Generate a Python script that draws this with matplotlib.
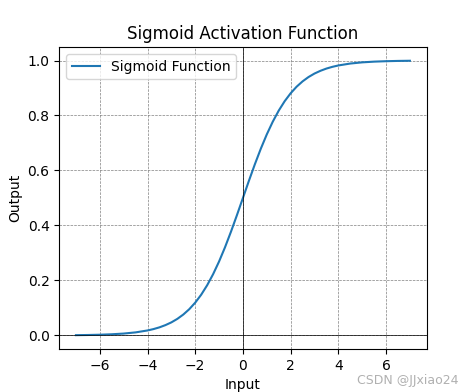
import matplotlib.pyplot as plt

# Values (denser where it bends)
x_vals = [-7.0, -6.5, -6.0, -5.5, -5.0, -4.5, -4.0, -3.75, -3.5, -3.25, -3.0, -2.75,
          -2.5, -2.25, -2.0, -1.75, -1.5, -1.25, -1.0, -0.75, -0.5, -0.25, 0.0,
          0.25, 0.5, 0.75, 1.0, 1.25, 1.5, 1.75, 2.0, 2.25, 2.5,
          2.75, 3.0, 3.25, 3.5, 3.75, 4.0, 4.5, 5.0, 5.5, 6.0, 6.5, 7.0]
y_vals = [0.0009, 0.0015, 0.0025, 0.0041, 0.0067, 0.0110, 0.0180, 0.0230, 0.0293, 0.0374, 0.0474, 0.0601,
          0.0759, 0.0953, 0.1192, 0.1480, 0.1824, 0.2227, 0.2689, 0.3208, 0.3775, 0.4378, 0.5000,
          0.5622, 0.6225, 0.6792, 0.7311, 0.7773, 0.8176, 0.8520, 0.8808, 0.9047, 0.9241,
          0.9399, 0.9526, 0.9626, 0.9707, 0.9770, 0.9820, 0.9890, 0.9933, 0.9959, 0.9975, 0.9985, 0.9991]

fig, ax = plt.subplots(figsize=(4.74, 3.92), dpi=100)

ax.plot(x_vals, y_vals, label='Sigmoid Function')
ax.set_title('Sigmoid Activation Function')
ax.set_xlabel('Input')
ax.set_ylabel('Output')

ax.axhline(0, color='black', linewidth=0.5)
ax.axvline(0, color='black', linewidth=0.5)
ax.grid(color='gray', linestyle='--', linewidth=0.5)
ax.legend(loc='upper left')

# watermark
fig.text(0.967, 0.014, 'CSDN @JJxiao24', ha='right', va='bottom',
         color='#b0b0b0', fontsize=9)

plt.savefig('out.png', dpi=100)
